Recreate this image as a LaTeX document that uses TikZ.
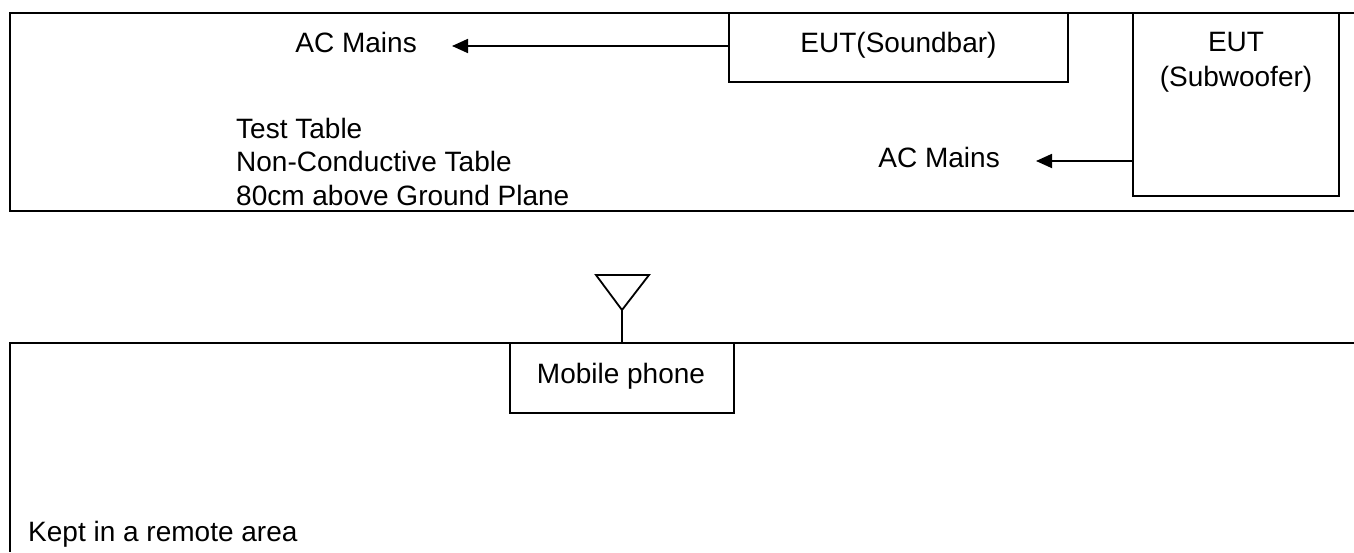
\documentclass[tikz,border=0pt]{standalone}
\usepackage{fontspec}
\setmainfont{Liberation Sans}
\usetikzlibrary{arrows.meta,positioning,calc}

\tikzset{
  eutbox/.style={draw, line width=1.8pt, inner sep=0pt},
  lbl/.style={font=\fontsize{28}{33}\selectfont, inner sep=0pt},
  feed/.style={line width=1.8pt, -{Triangle[length=16pt,width=14pt]}}
}

\begin{document}
\begin{tikzpicture}[x=1pt,y=1pt]
        \useasboundingbox (0,0) rectangle (1354,-552);
        % test table (open on the right)
        \draw[line width=1.8pt] (1354,-13) -- (10,-13) -- (10,-211) -- (1354,-211);
        \node[lbl, anchor=north west, align=left, font=\fontsize{28}{33.5}\selectfont] (tbl) at (236,-118)
          {Test Table\\Non-Conductive Table\\80cm above Ground Plane};
        % soundbar and its mains lead
        \node[eutbox, minimum width=339pt, minimum height=69pt] (sbar) at (898.5,-47.5) {};
        \node[lbl, anchor=base] (sbartxt) at (898.5,-52) {EUT(Soundbar)};
        \node[lbl, anchor=base east] (mainsA) at (417,-52) {AC Mains};
        \coordinate (tipA) at (452,-46);
        \draw[feed] (sbar.west |- tipA) -- (tipA);
        % subwoofer and its mains lead
        \node[eutbox, minimum width=206pt, minimum height=183pt] (sub) at (1236,-104.5) {};
        \node[lbl, anchor=north, align=center, font=\fontsize{28}{35}\selectfont] (subtxt) at (1236,-32) {EUT\\(Subwoofer)};
        \node[lbl, anchor=base east] (mainsB) at (1000,-167) {AC Mains};
        \coordinate (tipB) at (1036,-161);
        \draw[feed] (sub.west |- tipB) -- (tipB);
        % remote area (open on the right and below)
        \draw[line width=1.8pt] (1354,-343) -- (10,-343) -- (10,-552);
        \node[lbl, anchor=base west] (remote) at (28,-541) {Kept in a remote area};
        % mobile phone with antenna
        \node[eutbox, minimum width=224pt, minimum height=70pt] (phone) at (622,-378) {};
        \node[lbl, anchor=base] (phonetxt) at (621,-383) {Mobile phone};
        \coordinate (ant) at (622,-310);
        \draw[line width=1.8pt, line join=miter] (596,-275) -- (649,-275) -- (ant) -- cycle;
        \draw[line width=1.8pt] (ant) -- (phone.north);
\end{tikzpicture}
\end{document}
